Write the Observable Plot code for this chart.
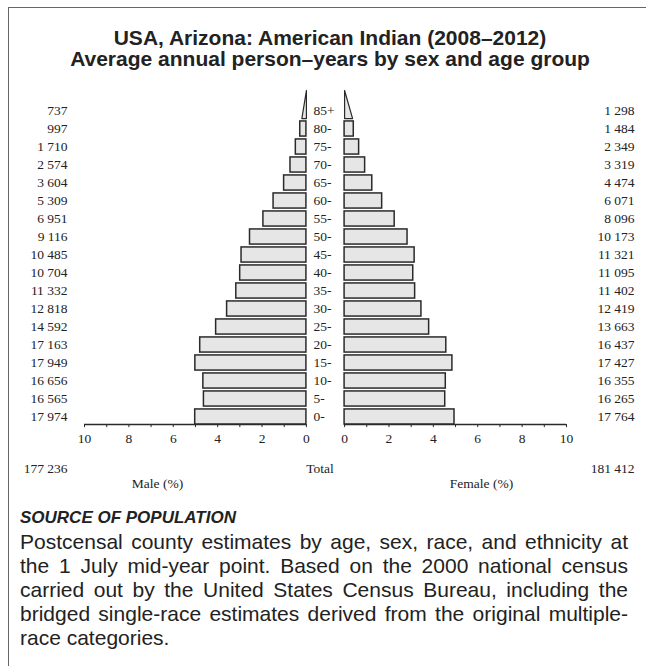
<!DOCTYPE html>
<html><head><meta charset="utf-8">
<script src="https://cdn.jsdelivr.net/npm/d3@7"></script>
<script src="https://cdn.jsdelivr.net/npm/@observablehq/plot@0.6"></script>
<style>
body{margin:0;background:#fff;}
#page{position:relative;width:646px;height:666px;overflow:hidden;font-family:"Liberation Sans",Arial,sans-serif;}
#frame{position:absolute;left:8px;top:7px;width:700px;height:700px;border-left:1.5px solid #666;border-top:1.5px solid #666;}
#title{position:absolute;left:8px;width:644px;top:27px;text-align:center;font-weight:bold;font-size:21px;line-height:21px;color:#222;}
#chart{position:absolute;left:0;top:80px;}
#chart text{font-family:"Liberation Serif","Times New Roman",serif;}
#src{position:absolute;left:20px;width:608px;top:506px;color:#222;}
#src h2{margin:0;font-size:17px;font-style:italic;font-weight:bold;line-height:24px;}
#src p{margin:0;font-size:21px;line-height:24px;text-align:justify;}
</style></head>
<body>
<div id="page">
  <div id="frame"></div>
  <div id="title">USA, Arizona: American Indian (2008–2012)<br>Average annual person–years by sex and age group</div>
  <div id="chart"></div>
  <div id="src"><h2>SOURCE OF POPULATION</h2><p>Postcensal county estimates by age, sex, race, and ethnicity at the 1 July mid-year point. Based on the 2000 national census carried out by the United States Census Bureau, including the bridged single-race estimates derived from the original multiple-race categories.</p></div>
</div>
<script>
// Data (youngest to oldest)
const ages = ["0-","5-","10-","15-","20-","25-","30-","35-","40-","45-","50-","55-","60-","65-","70-","75-","80-","85+"];
const male = [17974,16565,16656,17949,17163,14592,12818,11332,10704,10485,9116,6951,5309,3604,2574,1710,997,737];
const female = [17764,16265,16355,17427,16437,13663,12419,11402,11095,11321,10173,8096,6071,4474,3319,2349,1484,1298];
const totalMale = 177236;
const totalFemale = 181412;
const axisTicks = [0,2,4,6,8,10];
const minorTicks = [0,1,2,3,4,5,6,7,8,9,10];

const grand = totalMale + totalFemale;
const g = 0.86; // half gap between panels (in % units)
const bw = 0.42; // half bar height (rows)
const fmt = d3.formatLocale({decimal: ".", thousands: " ", grouping: [3], currency: ["", ""]}).format(",d");

const rows = ages.map((age, i) => ({age, i, m: male[i], f: female[i], mp: male[i] / grand * 100, fp: female[i] / grand * 100}));
const last = rows[rows.length - 1];
const regular = rows.filter(d => d !== last);

const wedge = [
  {s: "m", x: -g, y: last.i - bw}, {s: "m", x: -g - last.mp, y: last.i - bw}, {s: "m", x: -g, y: last.i + 1.14}, {s: "m", x: -g, y: last.i - bw},
  {s: "f", x: g, y: last.i - bw}, {s: "f", x: g + last.fp, y: last.i - bw}, {s: "f", x: g, y: last.i + 1.14}, {s: "f", x: g, y: last.i - bw}
];
const sides = [{s: "m", sign: -1}, {s: "f", sign: 1}];
const tickRows = sides.flatMap(sd => minorTicks.map(t => ({t, x: sd.sign * (g + t)})));
const labelRows = sides.flatMap(sd => axisTicks.map(t => ({t, x: sd.sign * (g + t)})));
const serif = "Liberation Serif";
const ink = "#2a2a2a";
const fill = "#e6e6e6";
const fs = 13.5;
const T = {fill: "#222", fontSize: fs, fontFamily: serif};

const chart = Plot.plot({
  width: 646, height: 420,
  marginTop: 0, marginBottom: 0, marginLeft: 0, marginRight: 0,
  x: {domain: [-10 - g, 10 + g], range: [84, 566], axis: null},
  y: {domain: [0, 17], range: [336.5, 30.5], axis: null},
  style: {fontFamily: serif, fontSize: fs + "px", color: ink, background: "transparent"},
  marks: [
    Plot.rect(regular, {x1: -g, x2: d => -g - d.mp, y1: d => d.i - bw, y2: d => d.i + bw, fill, stroke: ink, strokeWidth: 1.5}),
    Plot.rect(regular, {x1: g, x2: d => g + d.fp, y1: d => d.i - bw, y2: d => d.i + bw, fill, stroke: ink, strokeWidth: 1.5}),
    Plot.line(wedge, {x: "x", y: "y", z: "s", fill, stroke: ink, strokeWidth: 1.2, curve: "linear"}),
    Plot.ruleY(sides, {y: -bw, x1: d => d.sign * g, x2: d => d.sign * (g + 10), stroke: ink, strokeWidth: 1.4}),
    Plot.ruleX(tickRows, {x: "x", y1: -bw, y2: -bw - 0.17, stroke: ink, strokeWidth: 1}),
    Plot.text(labelRows, {x: "x", y: -bw, dy: 14, text: d => String(d.t), ...T}),
    Plot.text(rows, {x: -g, dx: 7, y: "i", text: "age", textAnchor: "start", ...T}),
    Plot.text(rows, {frameAnchor: "left", dx: 67, y: "i", text: d => fmt(d.m), textAnchor: "end", ...T}),
    Plot.text(rows, {frameAnchor: "right", dx: -12, y: "i", text: d => fmt(d.f), textAnchor: "end", ...T}),
    Plot.text([fmt(totalMale)], {frameAnchor: "top-left", dx: 67, dy: 383, text: d => d, textAnchor: "end", ...T}),
    Plot.text([fmt(totalFemale)], {frameAnchor: "top-right", dx: -12, dy: 383, text: d => d, textAnchor: "end", ...T}),
    Plot.text(["Total"], {frameAnchor: "top-left", dx: 319.5, dy: 383, text: d => d, textAnchor: "middle", ...T}),
    Plot.text(["Male (%)"], {frameAnchor: "top-left", dx: 157, dy: 398, text: d => d, textAnchor: "middle", ...T}),
    Plot.text(["Female (%)"], {frameAnchor: "top-left", dx: 481, dy: 398, text: d => d, textAnchor: "middle", ...T})
  ]
});
document.getElementById("chart").appendChild(chart);
</script>
</body></html>
